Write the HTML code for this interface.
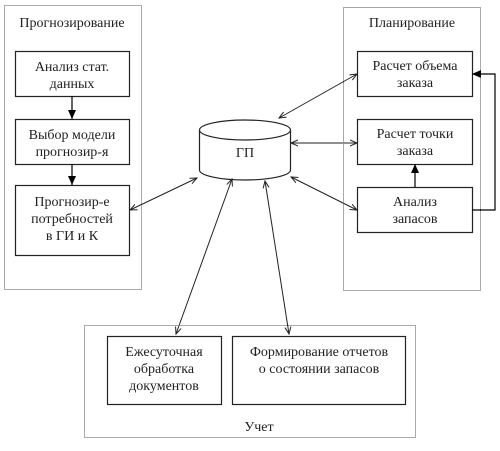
<!DOCTYPE html>
<html><head><meta charset="utf-8"><style>
body{margin:0;background:#fff}
svg text{font-family:"Liberation Serif","Times New Roman","DejaVu Serif",serif;font-size:14px;fill:#222;text-anchor:middle}
</style></head><body>
<svg width="500" height="446" xmlns="http://www.w3.org/2000/svg">
<defs>
<marker id="a" markerWidth="8" markerHeight="8" refX="7" refY="4" orient="auto-start-reverse" markerUnits="userSpaceOnUse"><path d="M0,1 L7,4 L0,7" fill="none" stroke="#222" stroke-width="1"/></marker>
<marker id="f" markerWidth="10" markerHeight="10" refX="9" refY="5" orient="auto" markerUnits="userSpaceOnUse"><path d="M0,1 L9,5 L0,9 Z" fill="#000"/></marker>
</defs>
<g fill="none" stroke="#555" stroke-dasharray="1,1">
<rect x="4.5" y="5.5" width="137" height="284"/>
<rect x="343.5" y="7.5" width="137" height="283"/>
<rect x="84.5" y="325.5" width="331" height="112"/>
</g>
<g fill="#fff" stroke="#222" stroke-width="1.2">
<rect x="15.5" y="51.5" width="114" height="45"/>
<rect x="15.5" y="119.5" width="114" height="45"/>
<rect x="15.5" y="185.5" width="114" height="70"/>
<rect x="357.5" y="51.5" width="115" height="45"/>
<rect x="357.5" y="119.5" width="115" height="45"/>
<rect x="357.5" y="187.5" width="115" height="45"/>
<rect x="107.5" y="336.5" width="114" height="68"/>
<rect x="232.5" y="336.5" width="173" height="68"/>
<path d="M199.5,130 L199.5,170 A45.5,10 0 0 0 290.5,170 L290.5,130"/>
<ellipse cx="245" cy="130" rx="45.5" ry="10"/>
</g>
<g stroke="#000" stroke-width="1.2" fill="none">
<line x1="72" y1="96" x2="72" y2="119" marker-end="url(#f)"/>
<line x1="72" y1="164" x2="72" y2="185" marker-end="url(#f)"/>
<line x1="415" y1="187" x2="415" y2="164" marker-end="url(#f)"/>
<polyline points="472,210 495,210 495,74 472,74" marker-end="url(#f)"/>
</g>
<g stroke="#222" stroke-width="1" fill="none">
<line x1="279" y1="118" x2="357" y2="74" marker-start="url(#a)" marker-end="url(#a)"/>
<line x1="291" y1="143" x2="357" y2="143" marker-start="url(#a)" marker-end="url(#a)"/>
<line x1="291" y1="177" x2="357" y2="210" marker-start="url(#a)" marker-end="url(#a)"/>
<line x1="197" y1="178" x2="130" y2="210" marker-start="url(#a)" marker-end="url(#a)"/>
<line x1="232" y1="179" x2="176" y2="334" marker-start="url(#a)" marker-end="url(#a)"/>
<line x1="265" y1="181" x2="289" y2="334" marker-start="url(#a)" marker-end="url(#a)"/>
</g>
<text x="72" y="27">Прогнозирование</text>
<text x="72" y="71">Анализ стат.</text><text x="72" y="88">данных</text>
<text x="72" y="139">Выбор модели</text><text x="72" y="156">прогнозир-я</text>
<text x="72" y="206">Прогнозир-е</text><text x="72" y="223">потребностей</text><text x="72" y="240">в ГИ и К</text>
<text x="245" y="157">ГП</text>
<text x="412" y="27">Планирование</text>
<text x="415" y="70">Расчет объема</text><text x="415" y="87">заказа</text>
<text x="415" y="138">Расчет  точки</text><text x="415" y="155">заказа</text>
<text x="415" y="206">Анализ</text><text x="415" y="223">запасов</text>
<text x="164" y="356">Ежесуточная</text><text x="164" y="373">обработка</text><text x="164" y="390">документов</text>
<text x="319" y="356">Формирование отчетов</text><text x="319" y="373">о состоянии запасов</text>
<text x="259" y="431">Учет</text>
</svg>
</body></html>
